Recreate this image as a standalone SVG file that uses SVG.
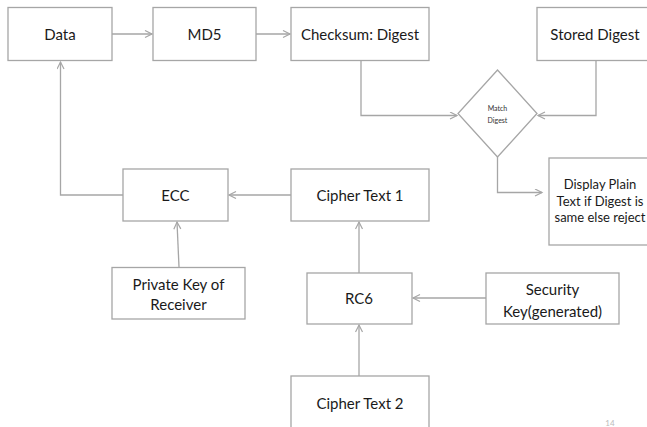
<svg xmlns="http://www.w3.org/2000/svg" width="647" height="427" viewBox="0 0 647 427">
<style>
.box{fill:#fff;stroke:#a6a6a6;stroke-width:1.3}
.t{font-family:Lato,"Open Sans","Liberation Sans",sans-serif;font-size:15px;fill:#1a1a1a;text-anchor:middle;dominant-baseline:central}
.s{font-size:7px;fill:#333}
.d{font-size:13px}
.c{fill:none;stroke:#a6a6a6;stroke-width:1.3}
</style>
<defs>
<marker id="a" markerWidth="10" markerHeight="10" refX="8" refY="4" orient="auto" markerUnits="userSpaceOnUse">
<path d="M1,0.5 L8,4 L1,7.5" fill="none" stroke="#a6a6a6" stroke-width="1.2"/>
</marker>
</defs>
<rect width="647" height="427" fill="#fff"/>
<g id="connectors">
<path class="c" d="M112,34 H152" marker-end="url(#a)"/>
<path class="c" d="M256,34 H290" marker-end="url(#a)"/>
<path class="c" d="M361,60 V115.5 H457" marker-end="url(#a)"/>
<path class="c" d="M596,60 V115.5 H538" marker-end="url(#a)"/>
<path class="c" d="M497.5,157 V192.5 H542" marker-end="url(#a)"/>
<path class="c" d="M291,195 H229" marker-end="url(#a)"/>
<path class="c" d="M123,195 H60.5 V62" marker-end="url(#a)"/>
<path class="c" d="M179,267 L177,222" marker-end="url(#a)"/>
<path class="c" d="M359,273 V222" marker-end="url(#a)"/>
<path class="c" d="M486,298 H413" marker-end="url(#a)"/>
<path class="c" d="M359,376 V325" marker-end="url(#a)"/>
</g>
<g id="data"><rect class="box" x="8" y="7.5" width="104" height="53"/><text class="t" x="60" y="34">Data</text></g>
<g id="md5"><rect class="box" x="153" y="7.5" width="103" height="53"/><text class="t" x="204.5" y="34">MD5</text></g>
<g id="checksum"><rect class="box" x="291" y="7.5" width="138" height="53"/><text class="t" x="360" y="34">Checksum: Digest</text></g>
<g id="stored"><rect class="box" x="537" y="7.5" width="115" height="53"/><text class="t" x="595" y="34">Stored Digest</text></g>
<g id="match"><polygon class="box" points="497.5,70 537,113.5 497.5,157 458,113.5"/><text class="t s" x="497.5" y="108">Match</text><text class="t s" x="497.5" y="120">Digest</text></g>
<g id="display"><rect class="box" x="549" y="158" width="105" height="87"/><text class="t d" x="600" y="184">Display Plain</text><text class="t d" x="600" y="201">Text if Digest is</text><text class="t d" x="600" y="217">same else reject</text></g>
<g id="ecc"><rect class="box" x="123" y="169" width="105" height="52"/><text class="t" x="175.5" y="195">ECC</text></g>
<g id="cipher1"><rect class="box" x="291" y="169" width="138" height="52"/><text class="t" x="360" y="195">Cipher Text 1</text></g>
<g id="privatekey"><rect class="box" x="112" y="267.5" width="133" height="51.5"/><text class="t" x="178.5" y="284">Private Key of</text><text class="t" x="178.5" y="303.5">Receiver</text></g>
<g id="rc6"><rect class="box" x="307" y="273" width="105" height="51"/><text class="t" x="359" y="298">RC6</text></g>
<g id="securitykey"><rect class="box" x="486" y="273" width="133" height="51"/><text class="t" x="552.5" y="289">Security</text><text class="t" x="552.5" y="311">Key(generated)</text></g>
<g id="cipher2"><rect class="box" x="291" y="376" width="138" height="60"/><text class="t" x="360" y="403">Cipher Text 2</text></g>
<text x="610" y="426" style="font-family:Lato,'Liberation Sans',sans-serif;font-size:8px;fill:#bbb;text-anchor:middle">14</text>
</svg>
